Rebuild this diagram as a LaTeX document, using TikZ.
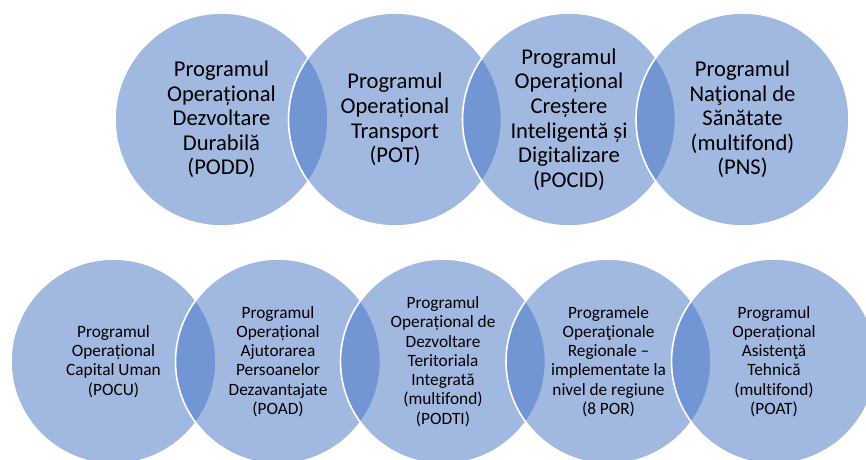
\documentclass[tikz,border=0pt]{standalone}
\usepackage{fontspec}
\setmainfont{Carlito}[Ligatures={NoCommon}]
\definecolor{accent}{HTML}{4472C4}
\begin{document}
\begin{tikzpicture}[x=1pt,y=-1pt,
  bubble/.style={circle, inner sep=0pt, fill=accent, fill opacity=0.5, draw=white, draw opacity=1, line width=1.6pt},
  bigb/.style={bubble, minimum size=213pt},
  smallb/.style={bubble, minimum size=205pt},
  bigt/.style={align=center, inner sep=0pt, font=\fontsize{22.6}{24.6}\selectfont},
  smallt/.style={align=center, inner sep=0pt, font=\fontsize{17.3}{19.3}\selectfont}]
\useasboundingbox (0,0) rectangle (866,459);
\clip (0,0) rectangle (866,459);
% top row
\node[bigb] (a1) at (221.5,119.5) {};
\node[bigb] (a2) at (395,119.5) {};
\node[bigb] (a3) at (569,119.5) {};
\node[bigb] (a4) at (742.5,119.5) {};
% bottom row
\node[smallb] (b1) at (113.5,361.5) {};
\node[smallb] (b2) at (278,361.5) {};
\node[smallb] (b3) at (443,361.5) {};
\node[smallb] (b4) at (608.5,361.5) {};
\node[smallb] (b5) at (774,361.5) {};
% texts
\node[bigt] (ta1) at (a1) {Programul\\Operațional\\Dezvoltare\\Durabilă\\(PODD)};
\node[bigt] (ta2) at (a2) {Programul\\Operațional\\Transport\\(POT)};
\node[bigt] (ta3) at (a3) {Programul\\Operațional\\Creștere\\Inteligentă și\\Digitalizare\\(POCID)};
\node[bigt] (ta4) at (a4) {Programul\\Naţional de\\Sănătate\\(multifond)\\(PNS)};
\node[smallt] (tb1) at (b1) {Programul\\Operațional\\Capital Uman\\(POCU)};
\node[smallt] (tb2) at (b2) {Programul\\Operațional\\Ajutorarea\\Persoanelor\\Dezavantajate\\(POAD)};
\node[smallt] (tb3) at (b3) {Programul\\Operațional de\\Dezvoltare\\Teritoriala\\Integrată\\(multifond)\\(PODTI)};
\node[smallt] (tb4) at (b4) {Programele\\Operaţionale\\Regionale --\\implementate la\\nivel de regiune\\(8 POR)};
\node[smallt] (tb5) at (b5) {Programul\\Operațional\\Asistenţă\\Tehnică\\(multifond)\\(POAT)};
\end{tikzpicture}
\end{document}
